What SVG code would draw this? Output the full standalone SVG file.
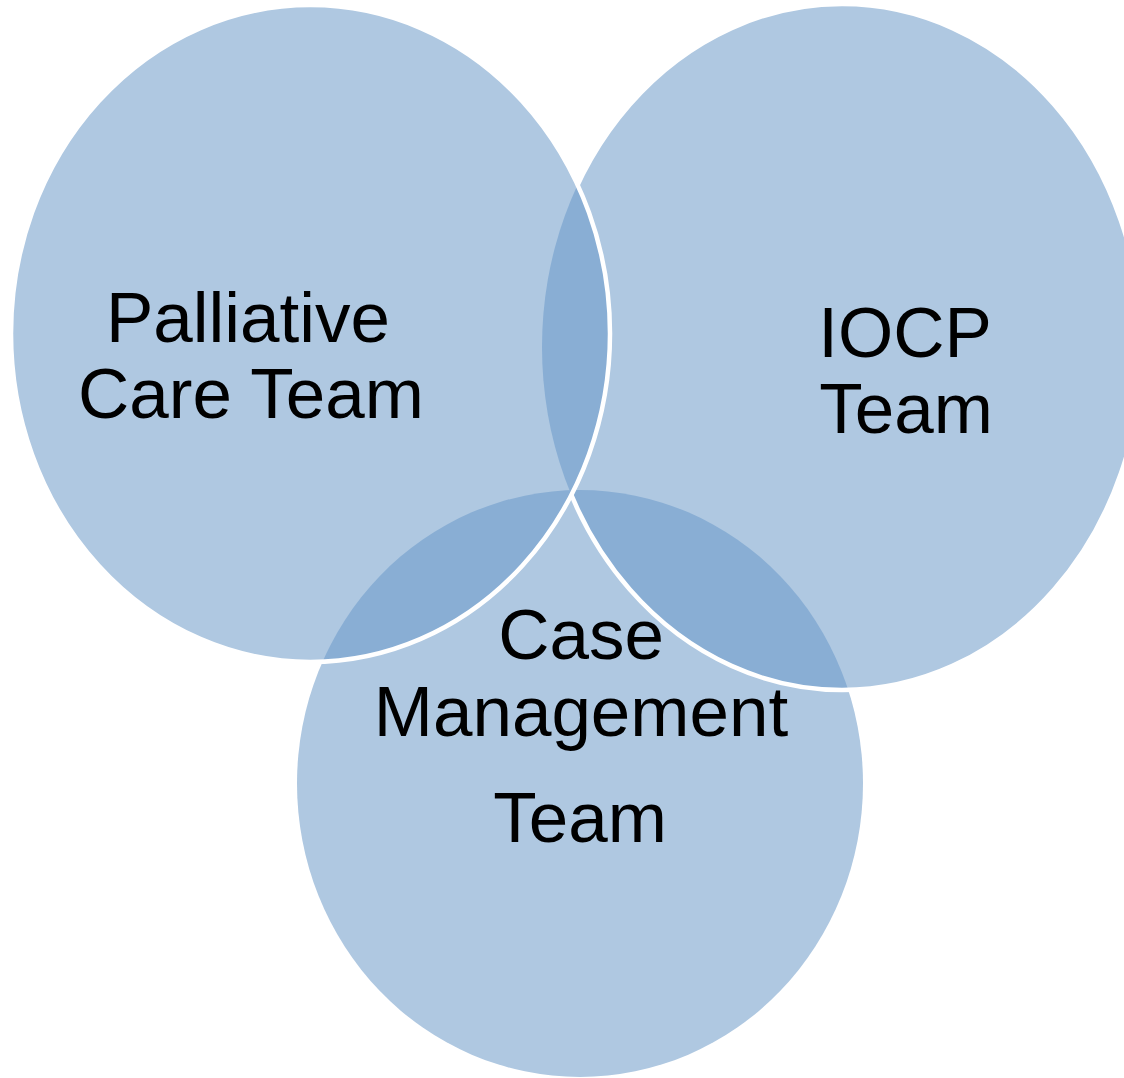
<svg xmlns="http://www.w3.org/2000/svg" width="1124" height="1078" viewBox="0 0 1124 1078">
  <style>
    .fill { fill: #afc8e1; }
    .overlap { fill: #89aed4; }
    .edge { fill: none; stroke: #ffffff; stroke-width: 4.5; }
    .label { font-family: "Liberation Sans", Arial, sans-serif; font-size: 71px; fill: #000000; text-anchor: middle; }
  </style>
  <defs>
    <ellipse id="shape-left" cx="310.5" cy="333.5" rx="299.5" ry="328.5"/>
    <ellipse id="shape-right" cx="842" cy="347" rx="300" ry="343"/>
    <ellipse id="shape-bottom" cx="580" cy="783.5" rx="283" ry="293.5"/>
    <clipPath id="clip-left"><use href="#shape-left"/></clipPath>
    <clipPath id="clip-right"><use href="#shape-right"/></clipPath>
  </defs>

  <!-- Case Management circle (lowest layer) -->
  <g id="case-management">
    <use href="#shape-bottom" class="fill"/>
  </g>

  <!-- IOCP circle, with its overlap on the case management circle -->
  <g id="iocp">
    <use href="#shape-right" class="fill"/>
    <use href="#shape-bottom" class="overlap" clip-path="url(#clip-right)"/>
    <use href="#shape-right" class="edge"/>
  </g>

  <!-- Palliative care circle (top layer), with its overlaps -->
  <g id="palliative-care">
    <use href="#shape-left" class="fill"/>
    <use href="#shape-right" class="overlap" clip-path="url(#clip-left)"/>
    <use href="#shape-bottom" class="overlap" clip-path="url(#clip-left)"/>
    <use href="#shape-left" class="edge"/>
  </g>

  <!-- Labels -->
  <g id="labels">
    <text class="label" x="248" y="342">Palliative</text>
    <text class="label" x="251" y="418">Care Team</text>
    <text class="label" x="905" y="357">IOCP</text>
    <text class="label" x="906" y="433">Team</text>
    <text class="label" x="581" y="659">Case</text>
    <text class="label" x="581" y="736">Management</text>
    <text class="label" x="580" y="842">Team</text>
  </g>
</svg>
